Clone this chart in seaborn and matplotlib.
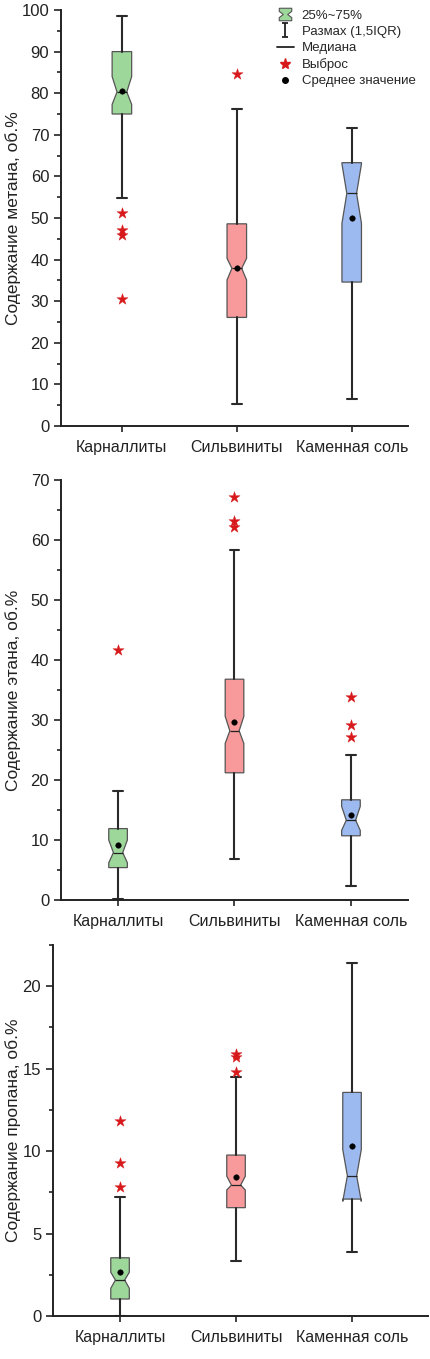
import numpy as np
import pandas as pd
import matplotlib
matplotlib.use("Agg")
import matplotlib.pyplot as plt
from matplotlib.path import Path
from matplotlib.lines import Line2D
from matplotlib.ticker import MultipleLocator
import seaborn as sns

categories = ["Карналлиты", "Сильвиниты", "Каменная соль"]
colors = ["#9dd79a", "#f89a9b", "#9dbaf0"]

# Methane
ch4_q1 = [75.0, 26.1, 34.6]
ch4_med = [80.3, 37.9, 55.9]
ch4_q3 = [90.0, 48.6, 63.3]
ch4_lo = [54.9, 5.3, 6.5]
ch4_hi = [98.6, 76.3, 71.7]
ch4_cilo = [77.3, 35.1, 48.7]
ch4_cihi = [84.0, 40.3, 63.0]
ch4_mean = [80.5, 37.9, 50.1]
ch4_out = [[51.2, 47.2, 46.0, 30.5], [84.6], []]

# Ethane
c2_q1 = [5.4, 21.2, 10.7]
c2_med = [7.9, 28.2, 13.3]
c2_q3 = [11.9, 36.8, 16.7]
c2_lo = [0.1, 6.8, 2.3]
c2_hi = [18.2, 58.4, 24.2]
c2_cilo = [6.2, 26.1, 11.6]
c2_cihi = [10.0, 30.6, 15.6]
c2_mean = [9.1, 29.7, 14.1]
c2_out = [[41.7], [67.1, 63.2, 62.2], [33.9, 29.1, 27.2]]

# Propane
c3_q1 = [1.03, 6.57, 7.09]
c3_med = [2.18, 7.94, 8.5]
c3_q3 = [3.53, 9.76, 13.56]
c3_lo = [0.0, 3.33, 3.9]
c3_hi = [7.2, 14.5, 21.4]
c3_cilo = [1.68, 7.64, 6.95]
c3_cihi = [2.65, 8.48, 10.1]
c3_mean = [2.67, 8.4, 10.3]
c3_out = [[11.8, 9.3, 7.84], [15.9, 15.7, 14.8], []]

ylabels = ["Содержание метана, об.%", "Содержание этана, об.%", "Содержание пропана, об.%"]
legend_labels = ["25%~75%", "Размах (1,5IQR)", "Медиана", "Выброс", "Среднее значение"]

sns.set_theme(style="ticks")
plt.rcParams["font.family"] = ["Liberation Sans", "DejaVu Sans"]

fig = plt.figure(figsize=(4.30, 13.59), dpi=100)

panels = [
    dict(q1=ch4_q1, med=ch4_med, q3=ch4_q3, lo=ch4_lo, hi=ch4_hi, cilo=ch4_cilo, cihi=ch4_cihi,
         mean=ch4_mean, out=ch4_out, ylim=(0, 100), major=10, minor=5,
         rect=[61/430, 1-426/1359, 347/430, 416/1359], xlim=(-0.53, 2.49), width=0.17),
    dict(q1=c2_q1, med=c2_med, q3=c2_q3, lo=c2_lo, hi=c2_hi, cilo=c2_cilo, cihi=c2_cihi,
         mean=c2_mean, out=c2_out, ylim=(0, 70), major=10, minor=5,
         rect=[61/430, 1-900/1359, 347/430, 420/1359], xlim=(-0.49, 2.49), width=0.16),
    dict(q1=c3_q1, med=c3_med, q3=c3_q3, lo=c3_lo, hi=c3_hi, cilo=c3_cilo, cihi=c3_cihi,
         mean=c3_mean, out=c3_out, ylim=(0, 22.5), major=5, minor=2.5,
         rect=[53/430, 1-1316/1359, 375/430, 371/1359], xlim=(-0.578, 2.655), width=0.16),
]

for i, p in enumerate(panels):
    ax = fig.add_axes(p["rect"])
    stats = []
    for j, cat in enumerate(categories):
        stats.append(dict(label=cat, q1=p["q1"][j], med=p["med"][j], q3=p["q3"][j],
                          whislo=p["lo"][j], whishi=p["hi"][j], cilo=p["cilo"][j],
                          cihi=p["cihi"][j], mean=p["mean"][j], fliers=[]))
    bp = ax.bxp(stats, positions=range(len(categories)), widths=p["width"],
                patch_artist=True, shownotches=True, showmeans=False, showfliers=False,
                boxprops=dict(edgecolor="#555555", linewidth=0.9),
                whiskerprops=dict(color="#2a2a2a", linewidth=1.5),
                capprops=dict(color="#2a2a2a", linewidth=1.5),
                medianprops=dict(color="#222222", linewidth=0.9),
                capwidths=p["width"] * 0.5, manage_ticks=False)
    for patch, c in zip(bp["boxes"], colors):
        patch.set_facecolor(c)
    for b in bp["boxes"]:
        b.set_zorder(2)

    out_df = pd.DataFrame([(j, v) for j in range(len(categories)) for v in p["out"][j]],
                          columns=["x", "y"])
    if len(out_df):
        sns.scatterplot(data=out_df, x="x", y="y", marker="*", s=70, color="#d7191c",
                        edgecolor="#d7191c", linewidth=0.3, ax=ax, zorder=4, legend=False)
    mean_df = pd.DataFrame({"x": range(len(categories)), "y": p["mean"]})
    sns.scatterplot(data=mean_df, x="x", y="y", marker="o", s=16, color="black",
                    edgecolor="black", ax=ax, zorder=5, legend=False)

    ax.set_xlim(*p["xlim"])
    ax.set_ylim(*p["ylim"])
    ax.set_xticks(range(len(categories)))
    ax.set_xticklabels(categories, fontsize=11.5, color="#222222")
    ax.yaxis.set_major_locator(MultipleLocator(p["major"]))
    ax.yaxis.set_minor_locator(MultipleLocator(p["minor"]))
    ax.tick_params(axis="y", which="major", direction="out", length=5, width=1.2,
                   labelsize=12, colors="#222222")
    ax.tick_params(axis="y", which="minor", direction="out", length=3, width=1.2,
                   color="#222222")
    ax.tick_params(axis="x", which="major", direction="out", length=4, width=1.2,
                   colors="#222222", pad=6)
    ax.set_xlabel("")
    ax.set_ylabel(ylabels[i], fontsize=12.5, color="#222222")
    left_px = p["rect"][0] * 430
    width_px = p["rect"][2] * 430
    ax.yaxis.set_label_coords((21 - left_px) / width_px, 0.5)
    sns.despine(ax=ax)
    for s in ["left", "bottom"]:
        ax.spines[s].set_linewidth(1.4)
        ax.spines[s].set_color("#222222")

    if i == 0:
        hg = Path([(-1, 1), (1, 1), (1, 0.5), (0.35, 0), (1, -0.5), (1, -1), (-1, -1),
                   (-1, -0.5), (-0.35, 0), (-1, 0.5), (-1, 1)])
        wh = Path([(-0.5, 1), (0.5, 1), (0, 1), (0, -1), (-0.5, -1), (0.5, -1)],
                  [Path.MOVETO, Path.LINETO, Path.MOVETO, Path.LINETO, Path.MOVETO, Path.LINETO])
        handles = [
            Line2D([], [], linestyle="none", marker=hg, markersize=9,
                   markerfacecolor=colors[0], markeredgecolor="#555555", markeredgewidth=0.8),
            Line2D([], [], linestyle="none", marker=wh, markersize=10,
                   markerfacecolor="none", markeredgecolor="#222222", markeredgewidth=1.3),
            Line2D([], [], linestyle="-", color="#222222", linewidth=1.3),
            Line2D([], [], linestyle="none", marker="*", markersize=8,
                   color="#d7191c"),
            Line2D([], [], linestyle="none", marker="o", markersize=4, color="black"),
        ]
        fig.legend(handles, legend_labels, loc="upper left",
                   bbox_to_anchor=(274/430, 1 - 7/1359), frameon=False, fontsize=9.5,
                   handlelength=1.3, handletextpad=0.6, labelspacing=0.3,
                   borderaxespad=0, borderpad=0.2)

fig.savefig("out.png", dpi=100)
